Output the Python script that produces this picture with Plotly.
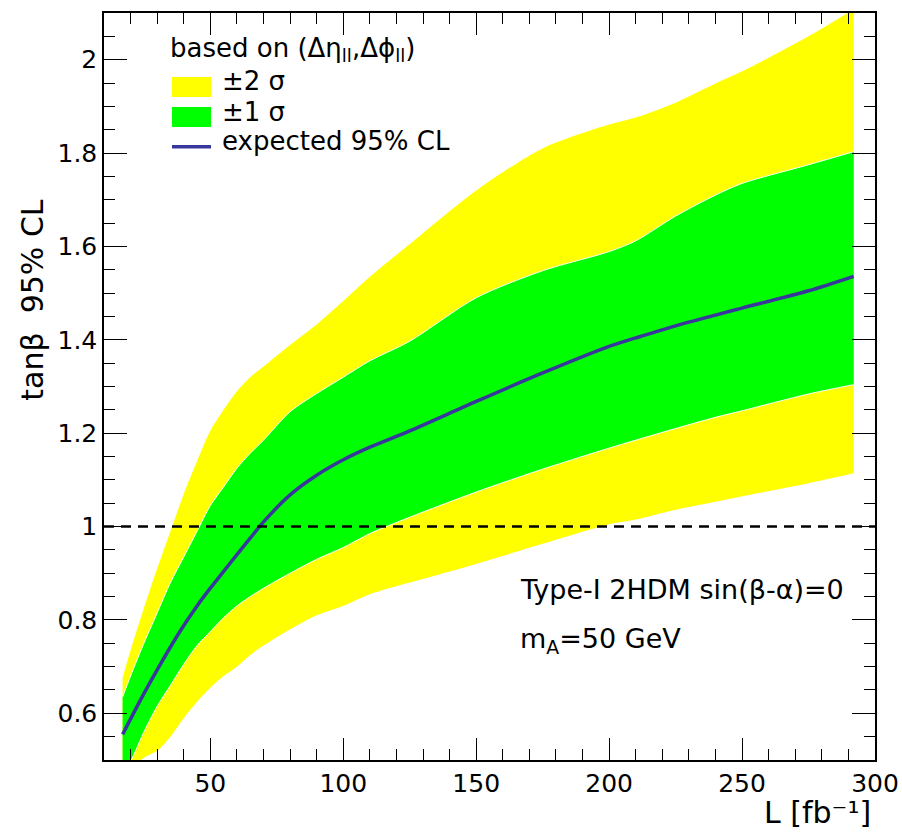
import plotly.graph_objects as go

# Integrated luminosity points [fb^-1]
lumi = [17, 20, 25, 30, 35, 40, 45, 50, 55, 60, 65, 70, 80, 90, 100, 110,
        125, 150, 175, 200, 210, 225, 240, 250, 275, 292]

# Expected 95% CL upper limit on tan(beta)
expected = [0.555, 0.588, 0.642, 0.693, 0.742, 0.788, 0.83, 0.868, 0.904, 0.94,
            0.975, 1.01, 1.068, 1.11, 1.143, 1.17, 1.205, 1.268, 1.329, 1.386,
            1.404, 1.43, 1.453, 1.468, 1.505, 1.536]

# +/- 1 sigma band
plus1 = [0.635, 0.68, 0.75, 0.815, 0.88, 0.935, 0.99, 1.045, 1.085, 1.125,
         1.157, 1.185, 1.246, 1.285, 1.32, 1.355, 1.397, 1.49, 1.548, 1.589,
         1.612, 1.665, 1.71, 1.735, 1.775, 1.803]
minus1 = [0.47, 0.497, 0.56, 0.615, 0.66, 0.705, 0.745, 0.775, 0.805, 0.83,
          0.85, 0.868, 0.90, 0.93, 0.955, 0.985, 1.02, 1.074, 1.123, 1.168,
          1.185, 1.21, 1.234, 1.248, 1.284, 1.304]

# +/- 2 sigma band
plus2 = [0.676, 0.735, 0.825, 0.91, 0.99, 1.07, 1.14, 1.205, 1.25, 1.29,
         1.32, 1.343, 1.389, 1.433, 1.483, 1.535, 1.605, 1.72, 1.81, 1.861,
         1.876, 1.908, 1.949, 1.975, 2.05, 2.108]
minus2 = [0.45, 0.48, 0.505, 0.52, 0.55, 0.59, 0.625, 0.655, 0.68, 0.70,
          0.725, 0.745, 0.78, 0.81, 0.83, 0.855, 0.88, 0.92, 0.963, 1.005,
          1.015, 1.036, 1.053, 1.065, 1.093, 1.114]

ref_tanb = 1.0

x_ticks = [50, 100, 150, 200, 250, 300]
x_labels = ["50", "100", "150", "200", "250", "300"]
y_ticks = [0.6, 0.8, 1.0, 1.2, 1.4, 1.6, 1.8, 2.0]
y_labels = ["0.6", "0.8", "1", "1.2", "1.4", "1.6", "1.8", "2"]

YELLOW = "#ffff00"
GREEN = "#00ff00"
BLUE = "#38389c"
FONT = "DejaVu Sans"
SMOOTH = dict(shape="spline", smoothing=0.8)

fig = go.Figure()


def band(lower, upper, fillcolor, edgecolor, edgewidth):
    fig.add_trace(go.Scatter(
        x=lumi, y=lower, mode="lines",
        line=dict(width=edgewidth, color=edgecolor, **SMOOTH),
        hoverinfo="skip", showlegend=False))
    fig.add_trace(go.Scatter(
        x=lumi, y=upper, mode="lines", fill="tonexty", fillcolor=fillcolor,
        line=dict(width=edgewidth, color=edgecolor, **SMOOTH),
        hoverinfo="skip", showlegend=False))


band(minus2, plus2, YELLOW, YELLOW, 0)
band(minus1, plus1, GREEN, "white", 1)

# expected limit
fig.add_trace(go.Scatter(
    x=lumi, y=expected, mode="lines",
    line=dict(width=3.5, color=BLUE, **SMOOTH), showlegend=False))

# tan(beta) = 1 reference
fig.add_hline(y=ref_tanb, line=dict(color="black", width=2.5, dash="10px,7px"))

axis_common = dict(
    showline=True, linecolor="black", linewidth=1.5, mirror="allticks",
    ticks="inside", tickcolor="black", tickwidth=1.3,
    showgrid=False, zeroline=False, automargin=False,
    tickfont=dict(family=FONT, size=25, color="black"),
)

fig.update_xaxes(
    range=[10, 300], tickmode="array", tickvals=x_ticks, ticktext=x_labels,
    ticklen=22,
    minor=dict(ticks="inside", dtick=10, tick0=0, ticklen=11,
               tickcolor="black", tickwidth=1.3, showgrid=False),
    **axis_common)
fig.update_yaxes(
    range=[0.5, 2.1], tickmode="array", tickvals=y_ticks, ticktext=y_labels,
    ticklen=23,
    minor=dict(ticks="inside", dtick=0.05, tick0=0, ticklen=11,
               tickcolor="black", tickwidth=1.3, showgrid=False),
    **axis_common)

# legend drawn by hand
leg_x0, leg_x1 = 0.0882, 0.1388
fig.add_shape(type="rect", xref="paper", yref="paper",
              x0=leg_x0, x1=leg_x1, y0=0.8876, y1=0.9143,
              fillcolor=YELLOW, line=dict(width=0))
fig.add_shape(type="rect", xref="paper", yref="paper",
              x0=leg_x0, x1=leg_x1, y0=0.8474, y1=0.8742,
              fillcolor=GREEN, line=dict(width=0))
fig.add_shape(type="line", xref="paper", yref="paper",
              x0=leg_x0, x1=leg_x1, y0=0.821, y1=0.821,
              line=dict(color=BLUE, width=3.5))

txt_font = dict(family=FONT, size=26, color="black")


def note(text, x, y, xanchor="left", yanchor="middle", **kw):
    fig.add_annotation(text=text, x=x, y=y, xref="paper", yref="paper",
                       xanchor=xanchor, yanchor=yanchor, showarrow=False,
                       font=kw.pop("font", txt_font), **kw)


note("based on (Δη<sub>ll</sub>,Δϕ<sub>ll</sub>)", 0.083, 0.9505)
note("±2 σ", 0.1505, 0.9083)
note("±1 σ", 0.1505, 0.8681)
note("expected 95% CL", 0.1505, 0.8280)

note("Type-I 2HDM sin(β-α)=0", 0.537, 0.2289, font=dict(family=FONT, size=27, color="black"))
note("m<sub>A</sub>=50 GeV", 0.537, 0.1606, font=dict(family=FONT, size=27, color="black"))

# axis titles
note("L [fb⁻¹]", 0.9974, -0.0964, xanchor="right", yanchor="bottom",
     font=dict(family=FONT, size=30, color="black"))
note("tanβ  95% CL", -0.0925, 0.6158, xanchor="center", textangle=-90,
     font=dict(family=FONT, size=30, color="black"))

fig.update_layout(
    width=902, height=833,
    margin=dict(l=104, r=27, t=13, b=73),
    paper_bgcolor="white", plot_bgcolor="white",
    showlegend=False,
)

fig.write_html("out.html")
